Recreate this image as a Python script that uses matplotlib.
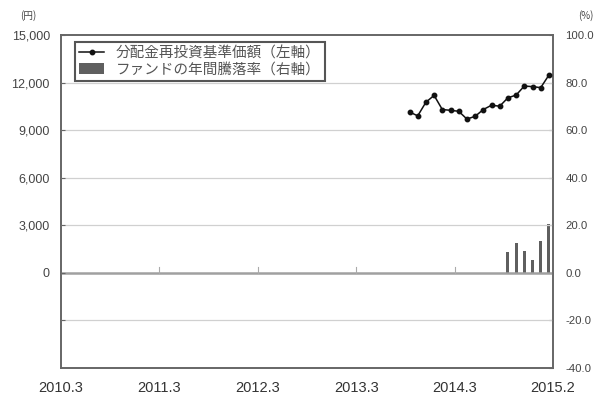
import matplotlib
matplotlib.use("Agg")
import matplotlib.pyplot as plt
import numpy as np

plt.rcParams['font.family'] = ['Liberation Sans', 'Noto Sans CJK JP', 'DejaVu Sans']

# Months 2010.3 .. 2015.2
months = [f"{2010 + (2 + i) // 12}.{(2 + i) % 12 + 1}" for i in range(60)]

nav_months = months[42:]
nav_values = [10150, 9900, 10760, 11190, 10300, 10250, 10190, 9700, 9870,
              10300, 10570, 10510, 11040, 11210, 11780, 11745, 11680, 12470]

dd_months = ["2014.9", "2014.10", "2014.11", "2014.12", "2015.1", "2015.2"]
dd_values = [8.8, 12.5, 9.0, 5.5, 13.6, 20.4]

left_ticks = [-3000, 0, 3000, 6000, 9000, 12000, 15000]
left_labels = ["", "0", "3,000", "6,000", "9,000", "12,000", "15,000"]
right_ticks = [-40, -20, 0, 20, 40, 60, 80, 100]
right_labels = ["-40.0", "-20.0", "0.0", "20.0", "40.0", "60.0", "80.0", "100.0"]
x_tick_labels = ["2010.3", "2011.3", "2012.3", "2013.3", "2014.3", "2015.2"]

legend_line = "分配金再投資基準価額（左軸）"
legend_bar = "ファンドの年間騰落率（右軸）"

fig = plt.figure(figsize=(5.97, 4.01), dpi=100)
ax = fig.add_axes([61/597, 33/401, 492/597, 333/401])
ax2 = ax.twinx()

idx = {m: i for i, m in enumerate(months)}
nav_x = [idx[m] for m in nav_months]
dd_x = [idx[m] for m in dd_months]

spine_c = '#666666'
text_c = '#444444'

ax.set_xlim(-0.5, 59.5)
ax.set_ylim(-6000, 15000)
ax2.set_ylim(-40, 100)

# gridlines
for t in left_ticks:
    if t == 0:
        ax.axhline(t, color='#a0a0a0', lw=1.8, zorder=1)
    elif t != 15000:
        ax.axhline(t, color='#d0d0d0', lw=0.9, zorder=1)

# year marks on zero line
for b in [11.5, 23.5, 35.5, 47.5]:
    ax.plot([b, b], [0, 350], color='#aaaaaa', lw=0.8, zorder=1)

ax2.bar(dd_x, dd_values, width=0.38, color='#5f5f5f', zorder=2,
        label=legend_bar)
ax.plot(nav_x, nav_values, color='#111111', lw=1.1, marker='o', ms=3.2,
        zorder=5, label=legend_line)

ax.set_zorder(ax2.get_zorder() + 1)
ax.patch.set_visible(False)

ax.set_yticks(left_ticks)
ax.set_yticklabels(left_labels)
ax2.set_yticks(right_ticks)
ax2.set_yticklabels(right_labels)
ax.set_xticks([-0.5, 11.5, 23.5, 35.5, 47.5, 59.5])
ax.set_xticklabels(x_tick_labels)

ax.tick_params(axis='y', direction='in', length=3, color=spine_c,
               labelsize=9, labelcolor=text_c, pad=8)
ax2.tick_params(axis='y', direction='in', length=3, color=spine_c,
                labelsize=8.2, labelcolor=text_c, pad=9)
ax.tick_params(axis='x', length=0, labelsize=10.5, labelcolor='#333333', pad=9)

for a in (ax, ax2):
    for s in a.spines.values():
        s.set_color(spine_c)
        s.set_linewidth(1.2)

fig.text(20/597, 1 - 16/401, "(円)", fontsize=7, color=text_c,
         family=['Noto Sans CJK JP'], ha='left', va='center')
fig.text(578/597, 1 - 16/401, "(%)", fontsize=7, color=text_c,
         family=['Noto Sans CJK JP'], ha='left', va='center')

h1, l1 = ax.get_legend_handles_labels()
h2, l2 = ax2.get_legend_handles_labels()
leg = ax.legend(h1 + h2, l1 + l2, loc='upper left',
                bbox_to_anchor=(14/492, 1 - 7/333), frameon=True,
                fancybox=False, edgecolor='#555555', framealpha=1,
                prop={'family': ['Noto Sans CJK JP'], 'size': 10.5},
                handlelength=1.7, handletextpad=0.8, labelspacing=0.15,
                borderpad=0.3, borderaxespad=0)
for t in leg.get_texts():
    t.set_color('#555555')
leg.get_frame().set_linewidth(1.5)

fig.savefig("out.png", dpi=100)
